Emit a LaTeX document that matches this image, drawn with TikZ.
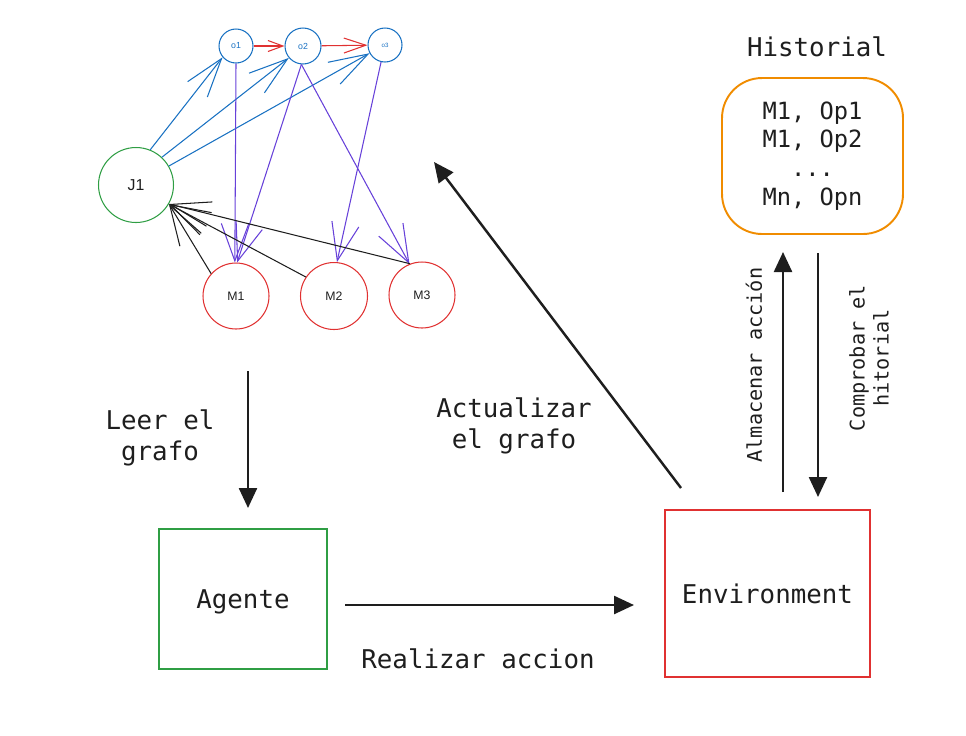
\documentclass[tikz,border=0pt]{standalone}
\usepackage{fontspec}
\setmonofont{DejaVu Sans Mono}
\setsansfont{Liberation Sans}
\usetikzlibrary{arrows.meta}
\usetikzlibrary{positioning}

\definecolor{azul}{HTML}{1971C2}
\definecolor{verde}{HTML}{2F9E44}
\definecolor{rojo}{HTML}{E03131}
\definecolor{naranja}{HTML}{F08C00}
\definecolor{morado}{HTML}{6741D9}
\definecolor{negro}{HTML}{1E1E1E}

\tikzset{
  nodo/.style={circle, draw, inner sep=0pt, line width=0.6pt},
  fazul/.style={draw=azul, line width=0.6pt, -{Straight Barb[length=0.78cm,width=0.5cm]}},
  fmorado/.style={draw=morado, line width=0.6pt, -{Straight Barb[length=0.75cm,width=0.55cm]}},
  fnegro/.style={draw=negro, line width=0.6pt, -{Straight Barb[length=0.8cm,width=0.5cm]}},
  frojo/.style={draw=rojo, line width=0.6pt},
  flecha/.style={draw=negro, line width=1.4pt, -{Triangle[length=0.4cm,width=0.36cm]}},
  texto/.style={font=\ttfamily\fontsize{14.7}{18}\selectfont, text=negro, align=center},
  caja/.style={draw, line width=1.1pt, inner sep=0pt}
}

\begin{document}
\begin{tikzpicture}[x=0.02cm, y=-0.02cm]

\useasboundingbox (0,0) rectangle (966,735);

% grafo
\node[nodo, draw=azul, text=azul, minimum size=0.68cm, font=\sffamily\fontsize{5}{6}\selectfont] (o1) at (236,46) {o1};
\node[nodo, draw=azul, text=azul, minimum size=0.72cm, font=\sffamily\fontsize{5}{6}\selectfont] (o2) at (303,46) {o2};
\node[nodo, draw=azul, text=azul, minimum size=0.68cm, font=\sffamily\fontsize{3.5}{4}\selectfont] (o3) at (385,45) {o3};
\node[nodo, draw=verde, text=negro, minimum size=1.5cm, font=\sffamily\fontsize{9}{10}\selectfont] (J1) at (136,185) {J1};
\node[nodo, draw=rojo, text=negro, minimum size=1.32cm, font=\sffamily\fontsize{7}{8}\selectfont] (M1) at (236,296) {M1};
\node[nodo, draw=rojo, text=negro, minimum size=1.34cm, font=\sffamily\fontsize{7}{8}\selectfont] (M2) at (334,296) {M2};
\node[nodo, draw=rojo, text=negro, minimum size=1.32cm, font=\sffamily\fontsize{7}{8}\selectfont] (M3) at (422,295) {M3};

% operaciones
\draw[frojo, -{Straight Barb[length=0.3cm,width=0.22cm]}] (o1) -- (o2);
\draw[frojo, -{Straight Barb[length=0.44cm,width=0.3cm]}] (o2) -- (o3);

% trabajo -> operaciones
\draw[fazul] (J1.68) -- (o1.220);
\draw[fazul] (J1.47) -- (o2.220);
\draw[fazul] (J1.30) -- (o3.208);

% operaciones -> maquinas
\draw[fmorado] (o1.-90) -- (M1.92);
\draw[fmorado] (o2.-95) -- (M1.88);
\draw[fmorado] (o2.-95) -- (M3.112);
\draw[fmorado] (o3.-103) -- (M2.85);

% maquinas -> trabajo
\draw[fnegro] (M1.138) -- (J1.-30);
\draw[fnegro] (M2.146) -- (J1.-30);
\draw[fnegro] (M3.111) -- (J1.-30);

% cajas
\node[caja, draw=verde, minimum width=3.36cm, minimum height=2.8cm, text depth=0pt, texto] (agente) at (243,599) {Agente};
\node[caja, draw=rojo, minimum width=4.1cm, minimum height=3.34cm, text depth=0pt, texto] (env) at (767.5,593.5) {Environment};
\node[texto] (histlabel) at (817,47) {Historial};
\node[caja, draw=naranja, rounded corners=0.8cm, minimum width=3.62cm, minimum height=3.12cm,
  texto, font=\ttfamily\fontsize{13.5}{16.4}\selectfont] (hist) at (812.5,156)
  {M1, Op1\\M1, Op2\\...\\Mn, Opn};

% frecce + label
\coordinate (leer-a) at (248,371);
\coordinate (leer-b) at (248,508);
\draw[flecha] (leer-a) -- (leer-b);
\node[texto] (leer) at (160,438) {Leer el\\grafo};

\coordinate (realizar-a) at (345,605);
\coordinate (realizar-b) at (634,605);
\draw[flecha] (realizar-a) -- (realizar-b);
\node[texto] (realizar) at (478,659) {Realizar accion};

\coordinate (act-a) at (681,488);
\coordinate (act-b) at (434,162);
\draw[flecha] (act-a) -- (act-b);
\node[texto] (act) at (514,426) {Actualizar\\el grafo};

\coordinate (alm-a) at (783,492);
\coordinate (alm-b) at (783,252);
\draw[flecha] (alm-a) -- (alm-b);
\node[texto, rotate=90, font=\ttfamily\fontsize{11.5}{13.6}\selectfont] (alm) at (754,365) {Almacenar acción};

\coordinate (comp-a) at (818,253);
\coordinate (comp-b) at (818,497);
\draw[flecha] (comp-a) -- (comp-b);
\node[texto, rotate=90, font=\ttfamily\fontsize{11.5}{13.6}\selectfont] (comp) at (869,358) {Comprobar el\\hitorial};

\end{tikzpicture}
\end{document}
